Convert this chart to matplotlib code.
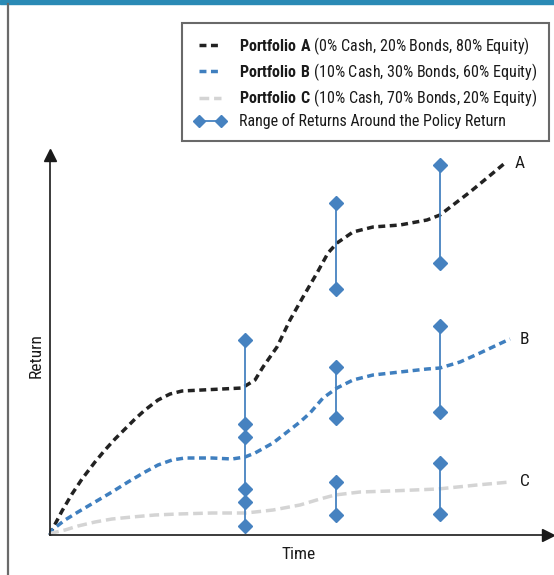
import matplotlib
matplotlib.use("Agg")
import matplotlib.pyplot as plt
from matplotlib.lines import Line2D
from matplotlib.patches import Rectangle

plt.rcParams['font.family'] = ['Roboto Condensed', 'DejaVu Sans']
plt.rcParams['mathtext.fontset'] = 'custom'
plt.rcParams['mathtext.bf'] = 'Roboto Condensed:bold'
plt.rcParams['mathtext.rm'] = 'Roboto Condensed'

# ---- data (time, return in arbitrary units) ----
time_a = [0, 2, 12, 22, 32, 45, 55, 65, 75, 85, 95, 108, 120, 132, 152, 172, 192,
          205, 213, 227, 240, 253, 267, 278, 287, 303, 323, 350, 377, 390, 403, 420, 437, 455]
ret_a = [0, 5, 24, 41, 56, 73, 85, 96, 106, 116, 125, 135, 141, 144, 145, 146, 147,
         155, 168, 188, 215, 238, 262, 282, 292, 303, 308, 310, 315, 320, 330, 343, 357, 372]

time_b = [0, 2, 15, 28, 45, 62, 78, 95, 108, 122, 135, 162, 182, 195, 205, 223, 250,
          260, 273, 287, 303, 323, 350, 377, 390, 410, 430, 447, 460]
ret_b = [0, 5, 15, 23, 33, 43, 53, 63, 70, 75, 77, 77, 76, 78, 82, 92, 113,
         122, 137, 147, 155, 160, 163, 166, 167, 173, 182, 190, 196]

time_c = [0, 2, 15, 28, 45, 62, 82, 105, 128, 162, 195, 205, 223, 250, 270, 285, 310,
          340, 388, 427, 460]
ret_c = [0, 2, 5, 9, 13, 16, 18, 20, 21, 22, 22, 23, 25, 30, 36, 40, 43,
         44, 46, 50, 53]

range_time = [195, 286, 390]
range_a_low = [111, 246, 272]
range_a_high = [195, 332, 370]
range_b_low = [46, 117, 123]
range_b_high = [98, 168, 209]
range_c_low = [9, 20, 21]
range_c_high = [33, 53, 72]

labels = ["Portfolio A", "Portfolio B", "Portfolio C"]
label_details = ["(0% Cash, 20% Bonds, 80% Equity)",
                 "(10% Cash, 30% Bonds, 60% Equity)",
                 "(10% Cash, 70% Bonds, 20% Equity)"]
end_labels = ["A", "B", "C"]
range_label = "Range of Returns Around the Policy Return"

colors = ["#222222", "#3f7fbf", "#d4d4d4"]
range_color = "#4682c0"

W, H = 554, 575
fig = plt.figure(figsize=(W / 100, H / 100), dpi=100)

# top band and left border
fig.patches.append(Rectangle((0, 1 - 4 / H), 1, 4 / H, transform=fig.transFigure,
                             color="#2a8ab5", zorder=0))
fig.lines.append(Line2D([7.5 / W, 7.5 / W], [0, 1 - 4 / H], transform=fig.transFigure,
                        color="#6a6a6a", lw=1.6))

ax = fig.add_axes([50 / W, 40 / H, 498 / W, 380 / H])
ax.set_xlim(0, 498)
ax.set_ylim(0, 380)
ax.set_xticks([])
ax.set_yticks([])
for s in ["top", "right"]:
    ax.spines[s].set_visible(False)
for s in ["left", "bottom"]:
    ax.spines[s].set_linewidth(1.2)
    ax.spines[s].set_color("#1a1a1a")
ax.patch.set_alpha(0)

# arrow heads
ax.plot(1, 0, marker=">", color="#1a1a1a", markersize=8, transform=ax.transAxes, clip_on=False)
ax.plot(0, 1, marker="^", color="#1a1a1a", markersize=8, transform=ax.transAxes, clip_on=False)

series = [(time_a, ret_a), (time_b, ret_b), (time_c, ret_c)]
dashes = [(2.0, 1.3), (2.0, 1.3), (2.8, 1.4)]
lws = [2.5, 2.5, 2.5]
handles = []
for (t, r), c, d, lw, lab, det, el in zip(series, colors, dashes, lws, labels, label_details, end_labels):
    ln, = ax.plot(t, r, color=c, lw=lw, dashes=d, zorder=2, clip_on=False,
                  solid_joinstyle="round", dash_joinstyle="round",
                  label=r"$\bf{" + lab.replace(" ", r"\ ") + "}$ " + det)
    handles.append(ln)
    ax.text(t[-1] + 10, r[-1], el, fontsize=12.5, color="#1a1a1a", va="center", ha="left")

for low, high in [(range_a_low, range_a_high), (range_b_low, range_b_high), (range_c_low, range_c_high)]:
    for t, lo, hi in zip(range_time, low, high):
        ax.plot([t, t], [lo, hi], color=range_color, lw=1.3, marker="D", markersize=7,
                zorder=3, clip_on=False)

range_handle = Line2D([0], [0], color=range_color, lw=1.3, marker="D", markersize=6)
handles.append(range_handle)
leg_labels = [h.get_label() for h in handles[:3]] + [range_label]

leg = fig.legend(handles, leg_labels, loc="upper right",
                 bbox_to_anchor=(549 / W, 1 - 23 / H), bbox_transform=fig.transFigure,
                 fontsize=11.5, frameon=True, fancybox=False, borderaxespad=0,
                 handlelength=2.0, handletextpad=0.8, labelspacing=0.28,
                 borderpad=0.75, numpoints=2)
leg.get_frame().set_edgecolor("#444444")
leg.get_frame().set_linewidth(1.5)
for txt in leg.get_texts():
    txt.set_color("#1a1a1a")

ax.text(0.5, -12 / 380, "Time", transform=ax.transAxes, ha="center", va="top", fontsize=12.5,
        color="#1a1a1a")
fig.text(36 / W, 1 - 356 / H, "Return", rotation=90, ha="center", va="center", fontsize=12.5,
         color="#1a1a1a")

fig.savefig("out.png", dpi=100)
